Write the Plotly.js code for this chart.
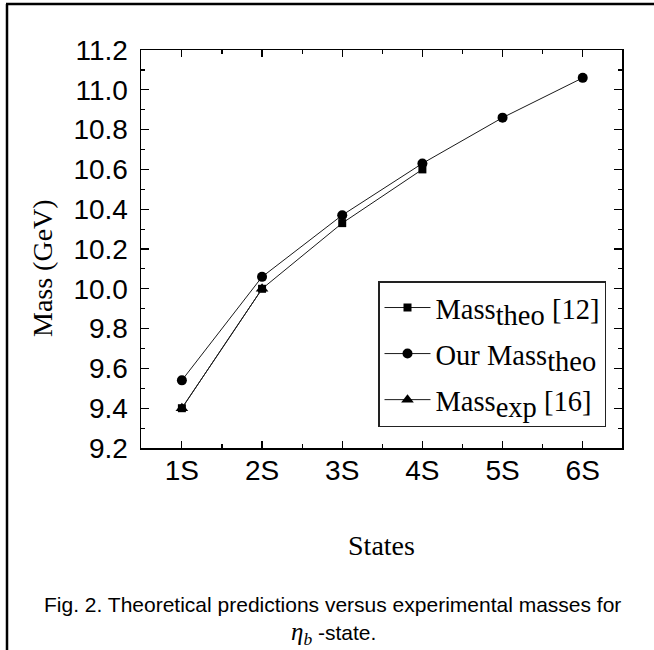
<!DOCTYPE html>
<html>
<head>
<meta charset="utf-8">
<script src="https://cdn.plot.ly/plotly-3.0.1.min.js"></script>
<style>
html,body{margin:0;padding:0;background:#fff;}
#chart{width:654px;height:650px;}
</style>
</head>
<body>
<div id="chart"></div>
<script>
// ---- data ----
const states = ['1S', '2S', '3S', '4S', '5S', '6S'];
const massTheo12 = [9.40, 10.00, 10.33, 10.60];               // Mass_theo [12]
const ourMassTheo = [9.54, 10.06, 10.37, 10.63, 10.86, 11.06]; // Our Mass_theo
const massExp16 = [9.40, 10.00];                               // Mass_exp [16]
const legendMain = ['Mass', 'Our Mass', 'Mass'];
const legendSub = ['theo', 'theo', 'exp'];
const legendRef = [' [12]', '', ' [16]'];
const yTicks = [9.2, 9.4, 9.6, 9.8, 10.0, 10.2, 10.4, 10.6, 10.8, 11.0, 11.2];

const xIdx = arr => arr.map((_, i) => i + 1);
const W = 654, H = 650;
const M = {l: 141, r: 32, t: 50, b: 202};
const pw = W - M.l - M.r, ph = H - M.t - M.b;
const px = x => (x - M.l) / pw;
const py = y => (H - M.b - y) / ph;

const lineStyle = {color: '#1a1a1a', width: 1};
const serif = '"Liberation Serif", "Times New Roman", serif';
const sans = '"Liberation Sans", Arial, sans-serif';
const LEG = 28.5;
const legName = i => legendMain[i] + '<sub><span style="font-size:' + LEG + 'px">' + legendSub[i] + '</span></sub>' + legendRef[i];

const traces = [
  {x: xIdx(massTheo12), y: massTheo12, name: legName(0), mode: 'lines+markers',
   line: lineStyle, marker: {symbol: 'square', size: 8, color: '#000'}, legendgroup: 'a'},
  {x: xIdx(ourMassTheo), y: ourMassTheo, name: legName(1), mode: 'lines+markers',
   line: lineStyle, marker: {symbol: 'circle', size: 10, color: '#000'}, legendgroup: 'b'},
  {x: xIdx(massExp16), y: massExp16, name: legName(2), mode: 'lines+markers',
   line: lineStyle, marker: {symbol: 'triangle-up', size: 11, color: '#000'}, legendgroup: 'c'}
];

const minorX = states.slice(0, -1).map((_, i) => i + 1.5).concat([0.5, 6.5]);

const layout = {
  width: W, height: H,
  margin: M,
  paper_bgcolor: '#fff', plot_bgcolor: '#fff',
  showlegend: true,
  legend: {
    x: px(378), y: py(281), xanchor: 'left', yanchor: 'top',
    bgcolor: '#fff', bordercolor: '#222', borderwidth: 1.5,
    font: {family: serif, size: LEG, color: '#000'},
    traceorder: 'grouped', tracegroupgap: 6, itemwidth: 46
  },
  xaxis: {
    range: [0.49, 6.49],
    tickmode: 'array', tickvals: xIdx(states), ticktext: states,
    ticks: 'inside', ticklen: 7, tickwidth: 1.2, tickcolor: '#000',
    minor: {tickmode: 'array', tickvals: minorX, ticks: 'inside', ticklen: 4, tickwidth: 1.2, tickcolor: '#000'},
    showline: true, linecolor: '#000', linewidth: 1.5, mirror: 'allticks',
    showgrid: false, zeroline: false,
    tickfont: {family: sans, size: 28, color: '#000'},
    ticklabelstandoff: -3,
    title: {text: 'States', font: {family: serif, size: 28, color: '#000'}, standoff: 50}
  },
  yaxis: {
    range: [9.2, 11.2],
    tickmode: 'array', tickvals: yTicks, ticktext: yTicks.map(v => v.toFixed(1)),
    ticks: 'inside', ticklen: 8, tickwidth: 1.2, tickcolor: '#000',
    minor: {dtick: 0.1, tick0: 9.1, ticks: 'inside', ticklen: 4, tickwidth: 1.2, tickcolor: '#000'},
    showline: true, linecolor: '#000', linewidth: 1.5, mirror: 'allticks',
    showgrid: false, zeroline: false,
    tickfont: {family: sans, size: 28, color: '#000'},
    ticklabelstandoff: 6
  },
  shapes: [
    {type: 'line', xref: 'paper', yref: 'paper', x0: px(7), x1: px(7), y0: py(4), y1: py(H + 5),
     line: {color: '#000', width: 2.5}},
    {type: 'line', xref: 'paper', yref: 'paper', x0: px(6), x1: px(W + 5), y0: py(4), y1: py(4),
     line: {color: '#000', width: 2.5}}
  ],
  annotations: [
    {xref: 'paper', yref: 'paper', x: px(42), y: py(268), xanchor: 'center', yanchor: 'middle',
     textangle: -90, showarrow: false, text: 'Mass (GeV)',
     font: {family: serif, size: 28, color: '#000'}},
    {xref: 'paper', yref: 'paper', x: px(332), y: py(604), xanchor: 'center', yanchor: 'middle',
     showarrow: false, text: 'Fig. 2. Theoretical predictions versus experimental masses for',
     font: {family: sans, size: 21, color: '#000'}},
    {xref: 'paper', yref: 'paper', x: px(333), y: py(630), xanchor: 'center', yanchor: 'top',
     yshift: 14, showarrow: false,
     text: '<span style="font-family:\'Liberation Serif\';font-size:25px"><i>η</i><sub><i>b</i></sub></span> -state.',
     font: {family: sans, size: 21, color: '#000'}}
  ]
};

Plotly.newPlot('chart', traces, layout, {displayModeBar: false, staticPlot: true});
</script>
</body>
</html>
